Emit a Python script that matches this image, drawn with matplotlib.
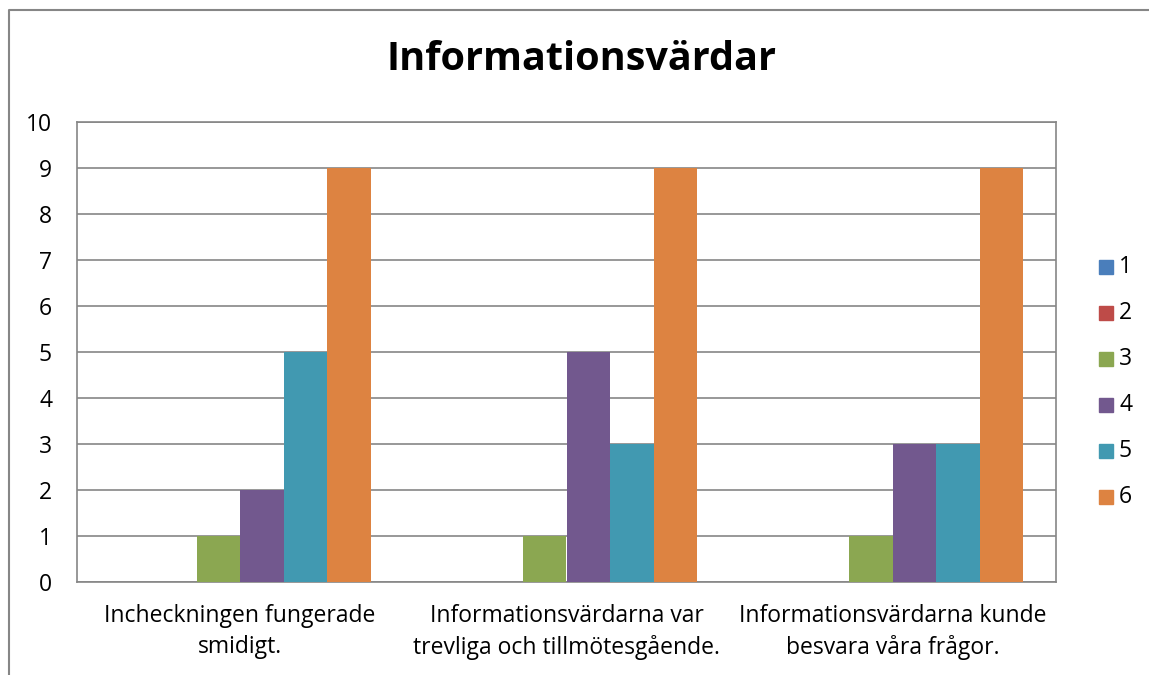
import matplotlib
matplotlib.use("Agg")
import matplotlib.pyplot as plt
import numpy as np
from matplotlib.lines import Line2D
from matplotlib.patches import Rectangle

categories = ["Incheckningen fungerade\nsmidigt.",
              "Informationsvärdarna var\ntrevliga och tillmötesgående.",
              "Informationsvärdarna kunde\nbesvara våra frågor."]
series_names = ["1", "2", "3", "4", "5", "6"]
values = {
    "1": [0, 0, 0],
    "2": [0, 0, 0],
    "3": [1, 1, 1],
    "4": [2, 5, 3],
    "5": [5, 3, 3],
    "6": [9, 9, 9],
}
colors = ["#4A7EBB", "#BE4B48", "#8BA751", "#72588E", "#4199B1", "#DD8341"]
title = "Informationsvärdar"

W, H = 1149, 675
plt.rcParams['font.family'] = ['Open Sans', 'DejaVu Sans']
fig = plt.figure(figsize=(W/100, H/100), dpi=100)

def fx(x): return x / W
def fy(y): return 1 - y / H

# outer chart border
fig.add_artist(Line2D([fx(8.5), fx(8.5), fx(1149)], [fy(675), fy(9.5), fy(9.5)],
                      color="#868686", lw=1.5, transform=fig.transFigure))

L, R, T, B = 77, 1056, 122, 582
ax = fig.add_axes([fx(L), fy(B), fx(R - L), (B - T) / H])

n = len(series_names)
ncat = len(categories)
gap = 1.5
bw = 1.0 / (n + gap)
x = np.arange(ncat)
for i, s in enumerate(series_names):
    offs = (-n / 2 + i + 0.5) * bw
    ax.bar(x + offs, values[s], width=bw, color=colors[i], label=s, zorder=3)

ax.set_xlim(-0.5, ncat - 0.5)
ax.set_ylim(0, 10)
ax.set_yticks(range(0, 11))
ax.yaxis.grid(True, color="#868686", lw=1.2, zorder=0)
ax.set_axisbelow(True)
for sp in ax.spines.values():
    sp.set_color("#868686")
    sp.set_linewidth(1.2)
ax.tick_params(axis='y', length=0, labelsize=16.5, pad=18)
ax.set_xticks(x)
ax.set_xticklabels(categories, fontsize=16.5, linespacing=1.35)
ax.tick_params(axis='x', length=0, pad=16)

fig.text(fx(582), fy(60), title, fontsize=28.5, fontweight='bold',
         ha='center', va='center')

# legend
leg_y = [267, 313, 359, 405, 451, 497]
for i, s in enumerate(series_names):
    fig.add_artist(Rectangle((fx(1099), fy(leg_y[i] + 7)), 14 / W, 14 / H,
                             color=colors[i], transform=fig.transFigure))
    fig.text(fx(1119), fy(leg_y[i]), s, fontsize=16.5, va='center', ha='left')

fig.savefig("out.png", dpi=100)
